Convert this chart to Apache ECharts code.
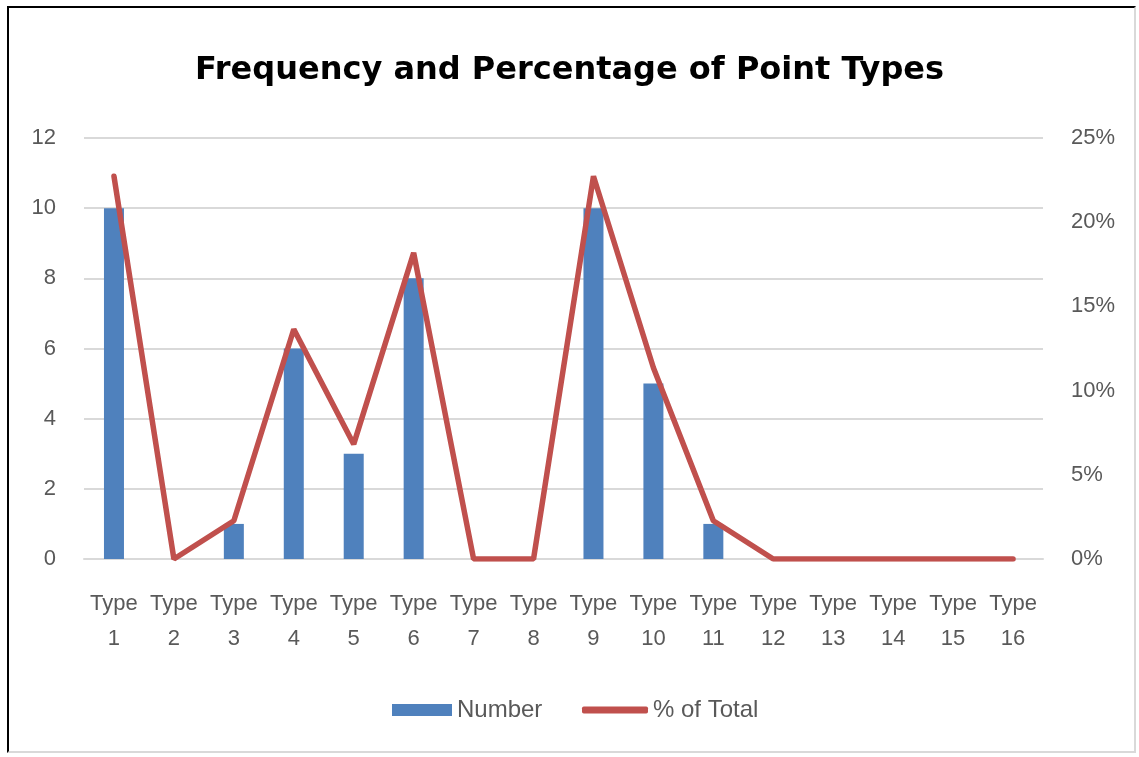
<!DOCTYPE html>
<html>
<head>
<meta charset="utf-8">
<script src="https://cdn.jsdelivr.net/npm/echarts@6/dist/echarts.min.js"></script>
<style>
html,body{margin:0;padding:0;background:#fff;}
#chart{position:absolute;left:0;top:0;width:1139px;height:757px;}
#frame{position:absolute;left:7px;top:6px;width:1129px;height:747px;border-left:2px solid #000;border-top:2px solid #000;border-right:2px solid #d9d9d9;border-bottom:2px solid #d9d9d9;pointer-events:none;box-sizing:border-box;}
</style>
</head>
<body>
<div id="chart"></div>
<div id="frame"></div>
<script>
const categories = ["Type\n1","Type\n2","Type\n3","Type\n4","Type\n5","Type\n6","Type\n7","Type\n8","Type\n9","Type\n10","Type\n11","Type\n12","Type\n13","Type\n14","Type\n15","Type\n16"];
const numberValues = [10,0,1,6,3,8,0,0,10,5,1,0,0,0,0,0];
const percentValues = [0.2273,0,0.0227,0.1364,0.0682,0.1818,0,0,0.2273,0.1136,0.0227,0,0,0,0,0];
const leftTicks = {min:0, max:12, interval:2};
const rightTicks = {min:0, max:0.25, interval:0.05};

const font = "'Liberation Sans', Arial, sans-serif";
const chart = echarts.init(document.getElementById('chart'));
chart.setOption({
  animation:false,
  backgroundColor:'#fff',
  title:{
    text:'Frequency and Percentage of Point Types',
    left:'center', top:50,
    textStyle:{fontFamily:"'DejaVu Sans', sans-serif", fontWeight:'bold', fontSize:32, color:'#000'}
  },
  legend:[
    {left:387, top:693, itemWidth:60, itemHeight:12, itemGap:8,
     textStyle:{fontFamily:font, fontSize:24, color:'#595959'},
     data:[{name:'Number', icon:'rect'}]},
    {left:577, top:693, itemWidth:66, itemHeight:7, itemGap:5,
     textStyle:{fontFamily:font, fontSize:24, color:'#595959'},
     data:[{name:'% of Total', icon:'roundRect', itemStyle:{color:'#C0504D'}}]}
  ],
  grid:{left:84, right:96, top:138, bottom:198, containLabel:false},
  xAxis:{
    type:'category', data:categories,
    axisLine:{show:true, lineStyle:{color:'#d9d9d9', width:2}},
    axisTick:{show:false},
    axisLabel:{interval:0, fontFamily:font, fontSize:22, color:'#595959', lineHeight:35, margin:27}
  },
  yAxis:[
    {type:'value', min:leftTicks.min, max:leftTicks.max, interval:leftTicks.interval,
     axisLine:{show:false}, axisTick:{show:false},
     splitLine:{lineStyle:{color:'#d9d9d9', width:2}},
     axisLabel:{fontFamily:font, fontSize:22, color:'#595959', margin:28}},
    {type:'value', min:rightTicks.min, max:rightTicks.max, interval:rightTicks.interval,
     axisLine:{show:false}, axisTick:{show:false}, splitLine:{show:false},
     axisLabel:{fontFamily:font, fontSize:22, color:'#595959', margin:28,
       formatter:v=>Math.round(v*100)+'%'}}
  ],
  series:[
    {name:'Number', type:'bar', data:numberValues, barWidth:20, itemStyle:{color:'#4F81BD'}},
    {name:'% of Total', type:'line', yAxisIndex:1, data:percentValues, symbol:'none',
     lineStyle:{color:'#C0504D', width:5.5, cap:'round'}, itemStyle:{color:'#C0504D'}}
  ]
});
</script>
</body>
</html>
